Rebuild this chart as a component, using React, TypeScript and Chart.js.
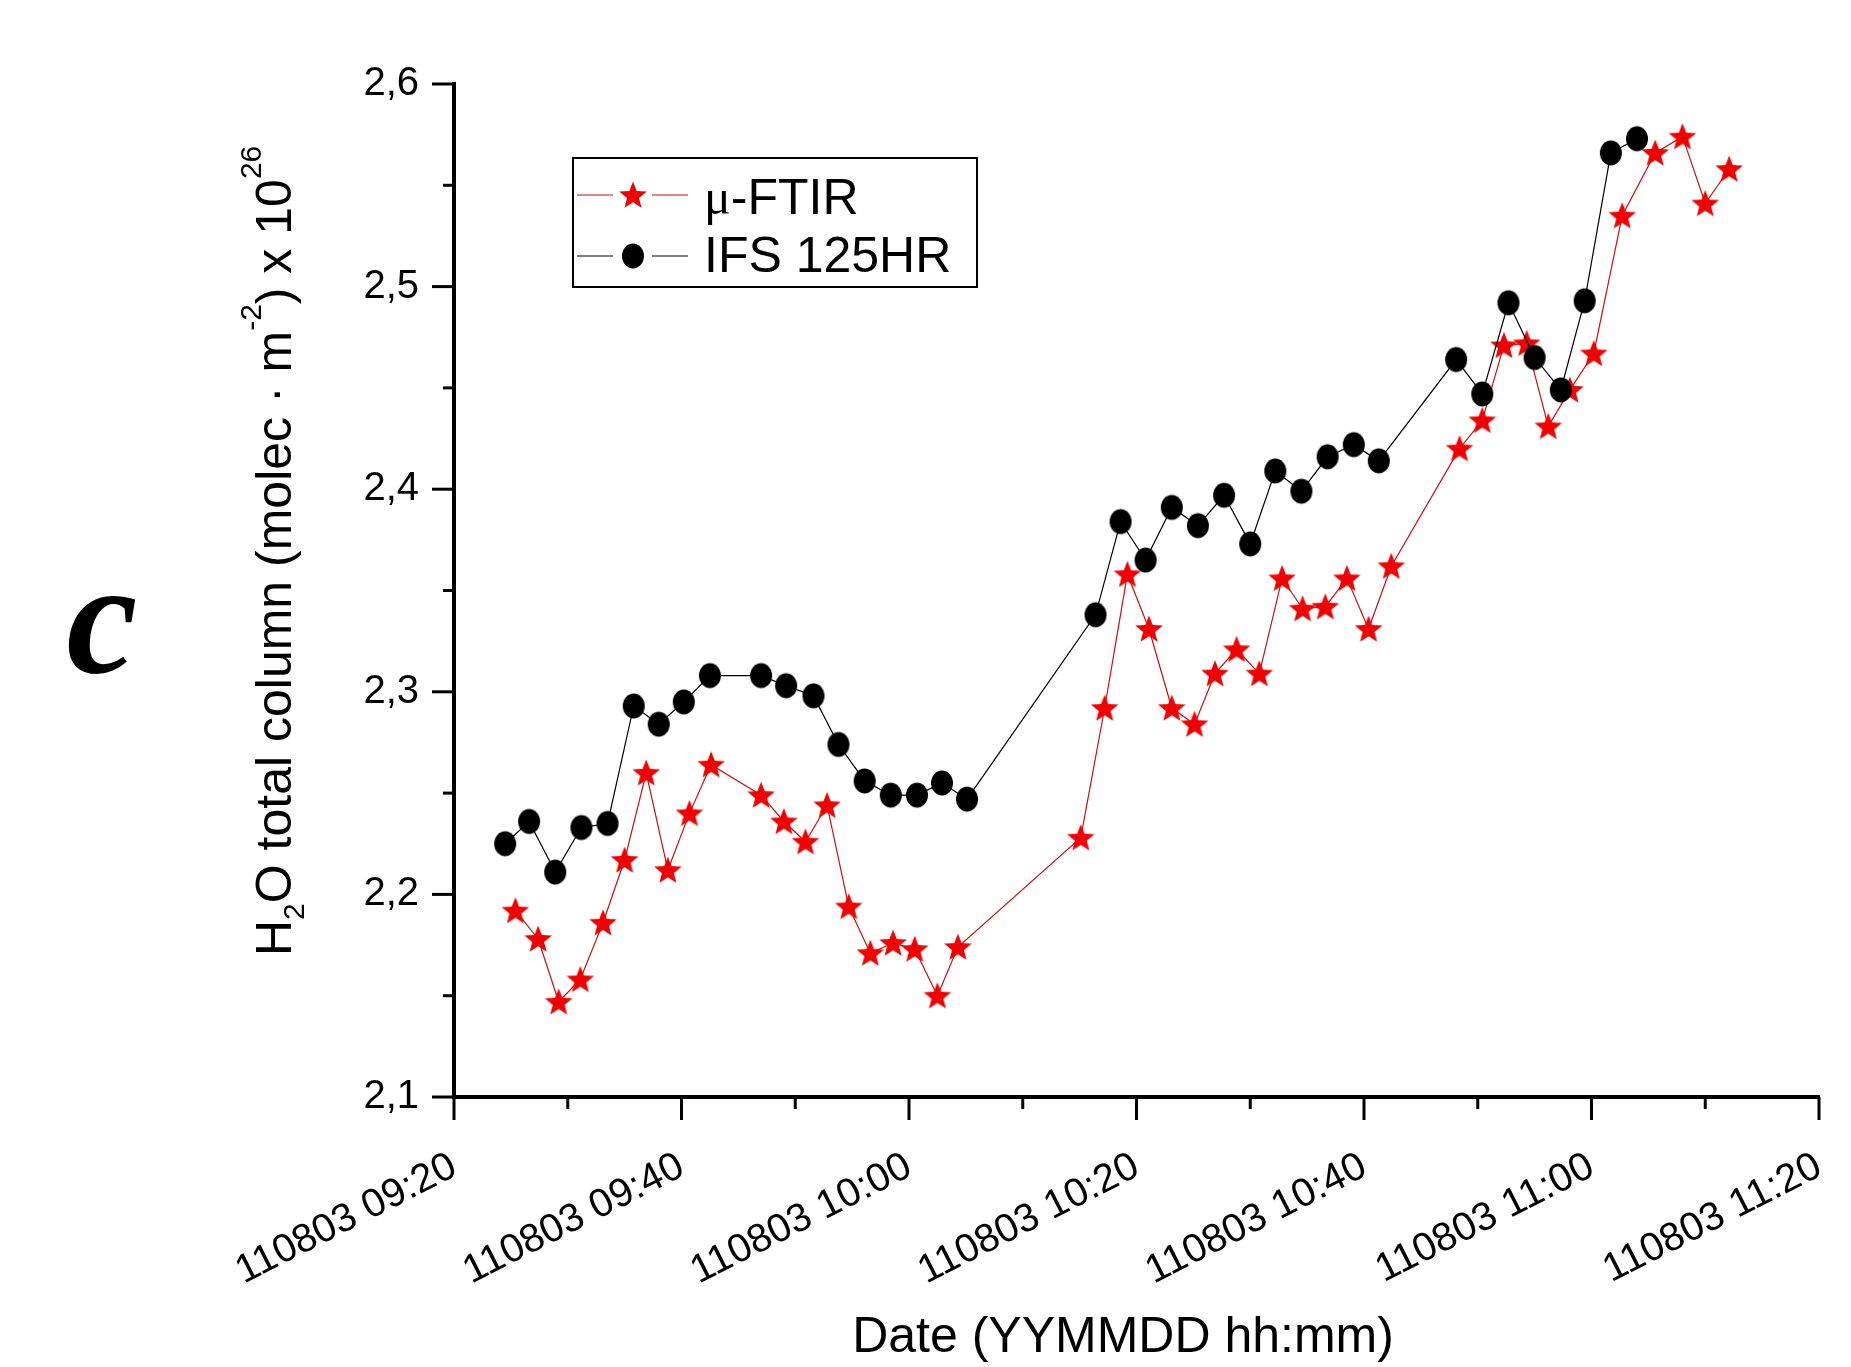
import React, { useEffect, useRef } from 'react';
import { Chart, registerables } from 'chart.js';

Chart.register(...registerables);

// Time axis: minutes after 110803 09:20
const ftirMinutes = [5.4, 7.4, 9.2, 11.1, 13.1, 15.0, 16.9, 18.8, 20.7, 22.6, 27.0, 29.0, 30.9, 32.8, 34.7, 36.6, 38.6, 40.5, 42.5, 44.3, 55.1, 57.2, 59.2, 61.1, 63.1, 65.1, 66.9, 68.8, 70.8, 72.8, 74.6, 76.6, 78.5, 80.4, 82.4, 88.4, 90.4, 92.3, 94.3, 96.2, 98.1, 100.2, 102.7, 105.6, 108.0, 110.0, 112.1];
const ftirValues = [2.192, 2.178, 2.147, 2.158, 2.186, 2.217, 2.260, 2.212, 2.240, 2.264, 2.249, 2.236, 2.226, 2.244, 2.194, 2.171, 2.176, 2.173, 2.150, 2.174, 2.228, 2.292, 2.358, 2.331, 2.292, 2.284, 2.309, 2.321, 2.309, 2.356, 2.341, 2.342, 2.356, 2.331, 2.362, 2.420, 2.434, 2.471, 2.472, 2.431, 2.449, 2.467, 2.535, 2.566, 2.574, 2.541, 2.558];

const ifsMinutes = [4.5, 6.6, 8.9, 11.2, 13.5, 15.8, 18.0, 20.2, 22.5, 27.0, 29.2, 31.6, 33.8, 36.1, 38.4, 40.7, 42.9, 45.1, 56.4, 58.6, 60.8, 63.1, 65.4, 67.7, 70.0, 72.2, 74.5, 76.8, 79.1, 81.3, 88.1, 90.4, 92.7, 95.0, 97.3, 99.4, 101.7, 104.0];
const ifsValues = [2.225, 2.236, 2.211, 2.233, 2.235, 2.293, 2.284, 2.295, 2.308, 2.308, 2.303, 2.298, 2.274, 2.256, 2.249, 2.249, 2.255, 2.247, 2.338, 2.384, 2.365, 2.391, 2.382, 2.397, 2.373, 2.409, 2.399, 2.416, 2.422, 2.414, 2.464, 2.447, 2.492, 2.465, 2.449, 2.493, 2.566, 2.573];

const xTickValues = [0, 20, 40, 60, 80, 100, 120];
const xTickLabels = ['110803 09:20', '110803 09:40', '110803 10:00', '110803 10:20', '110803 10:40', '110803 11:00', '110803 11:20'];
const xMinorTicks = [10, 30, 50, 70, 90, 110];
const yTickValues = [2.1, 2.2, 2.3, 2.4, 2.5, 2.6];
const yTickLabels = ['2,1', '2,2', '2,3', '2,4', '2,5', '2,6'];
const yMinorTicks = [2.15, 2.25, 2.35, 2.45, 2.55];

const seriesNames = ['\u03bc-FTIR', 'IFS 125HR'];
const xTitle = 'Date (YYMMDD hh:mm)';
const yTitleParts = [
  { t: 'H', k: 'n' },
  { t: '2', k: 'sub' },
  { t: 'O total column (molec \u00b7 m', k: 'n' },
  { t: '-2', k: 'sup' },
  { t: ') x 10', k: 'n' },
  { t: '26', k: 'sup' },
];
const panelLabel = 'c';

const SANS = "'Liberation Sans', Arial, sans-serif";
const RED = '#f00000';
const RED_LINE = '#c81010';

function makeStar(): HTMLCanvasElement {
  const c = document.createElement('canvas');
  c.width = 32;
  c.height = 32;
  const g = c.getContext('2d')!;
  const R = 14.5;
  const r = 6.3;
  const cx = 16;
  const cy = 17;
  g.beginPath();
  for (let i = 0; i < 10; i++) {
    const rad = i % 2 === 0 ? R : r;
    const a = -Math.PI / 2 + (i * Math.PI) / 5;
    const px = cx + rad * Math.cos(a);
    const py = cy + rad * Math.sin(a);
    if (i === 0) g.moveTo(px, py);
    else g.lineTo(px, py);
  }
  g.closePath();
  g.fillStyle = RED;
  g.fill();
  return c;
}

function makeDot(): HTMLCanvasElement {
  const c = document.createElement('canvas');
  c.width = 26;
  c.height = 28;
  const g = c.getContext('2d')!;
  g.beginPath();
  g.ellipse(13, 14, 11, 12.5, 0, 0, Math.PI * 2);
  g.fillStyle = '#000';
  g.fill();
  return c;
}

export default function App() {
  const ref = useRef<HTMLCanvasElement>(null);

  useEffect(() => {
    const canvas = ref.current!;
    const star = makeStar();
    const dot = makeDot();

    const decor = {
      id: 'decor',
      afterDraw(chart: any) {
        const ctx = chart.ctx as CanvasRenderingContext2D;
        const xs = chart.scales.x;
        const ys = chart.scales.y;
        const area = chart.chartArea;
        ctx.save();
        ctx.strokeStyle = '#000';
        ctx.lineCap = 'butt';
        // x ticks
        ctx.lineWidth = 3;
        xTickValues.forEach((t) => {
          const px = xs.getPixelForValue(t);
          ctx.beginPath();
          ctx.moveTo(px, area.bottom);
          ctx.lineTo(px, area.bottom + 23);
          ctx.stroke();
        });
        xMinorTicks.forEach((t) => {
          const px = xs.getPixelForValue(t);
          ctx.beginPath();
          ctx.moveTo(px, area.bottom);
          ctx.lineTo(px, area.bottom + 12);
          ctx.stroke();
        });
        // y ticks
        yTickValues.forEach((v) => {
          const py = ys.getPixelForValue(v);
          ctx.beginPath();
          ctx.moveTo(area.left, py);
          ctx.lineTo(area.left - 22, py);
          ctx.stroke();
        });
        yMinorTicks.forEach((v) => {
          const py = ys.getPixelForValue(v);
          ctx.beginPath();
          ctx.moveTo(area.left, py);
          ctx.lineTo(area.left - 11, py);
          ctx.stroke();
        });

        ctx.fillStyle = '#000';
        // x title
        ctx.font = `50px ${SANS}`;
        ctx.textAlign = 'center';
        ctx.textBaseline = 'alphabetic';
        ctx.fillText(xTitle, 1123, 1352);

        // y title (rotated, with sub/superscripts)
        ctx.save();
        ctx.translate(291, 956);
        ctx.rotate(-Math.PI / 2);
        ctx.textAlign = 'left';
        let cx = 0;
        yTitleParts.forEach((p) => {
          const small = p.k !== 'n';
          ctx.font = small ? `30px ${SANS}` : `50px ${SANS}`;
          const dy = p.k === 'sub' ? 13 : p.k === 'sup' ? -30 : 0;
          ctx.fillText(p.t, cx, dy);
          cx += ctx.measureText(p.t).width;
        });
        ctx.restore();

        // legend
        ctx.lineWidth = 2;
        ctx.strokeRect(573, 158, 404, 129);
        const rows = [
          { y: 195, color: RED_LINE, img: star },
          { y: 256, color: '#000', img: dot },
        ];
        rows.forEach((r, i) => {
          ctx.strokeStyle = r.color;
          ctx.lineWidth = 1.2;
          ctx.beginPath();
          ctx.moveTo(577, r.y);
          ctx.lineTo(613, r.y);
          ctx.moveTo(652, r.y);
          ctx.lineTo(688, r.y);
          ctx.stroke();
          ctx.drawImage(r.img, 633 - r.img.width / 2, r.y - r.img.height / 2);
          ctx.fillStyle = '#000';
          ctx.textAlign = 'left';
          ctx.textBaseline = 'alphabetic';
          const base = i === 0 ? 214 : 272;
          const tx = 704;
          if (i === 0) {
            const mu = seriesNames[0].slice(0, 1);
            const rest = seriesNames[0].slice(1);
            ctx.font = `50px 'Liberation Serif', serif`;
            ctx.fillText(mu, tx, base);
            const w = ctx.measureText(mu).width;
            ctx.font = `50px ${SANS}`;
            ctx.fillText(rest, tx + w, base);
          } else {
            ctx.font = `50px ${SANS}`;
            ctx.fillText(seriesNames[1], tx, base);
          }
        });

        // panel label
        ctx.font = `italic bold 160px 'Liberation Serif', serif`;
        ctx.textAlign = 'center';
        ctx.textBaseline = 'alphabetic';
        ctx.fillText(panelLabel, 102, 672);
        ctx.restore();
      },
    };

    const chart = new Chart(canvas, {
      type: 'line',
      data: {
        datasets: [
          {
            label: seriesNames[0],
            data: ftirMinutes.map((x, i) => ({ x, y: ftirValues[i] })),
            borderColor: RED_LINE,
            borderWidth: 1.2,
            pointStyle: star as any,
            pointRadius: 12,
            pointHoverRadius: 12,
            order: 1,
            tension: 0,
          },
          {
            label: seriesNames[1],
            data: ifsMinutes.map((x, i) => ({ x, y: ifsValues[i] })),
            borderColor: '#000',
            borderWidth: 1.2,
            pointStyle: dot as any,
            pointRadius: 12,
            pointHoverRadius: 12,
            order: 0,
            tension: 0,
          },
        ],
      },
      options: {
        responsive: false,
        animation: false,
        devicePixelRatio: 1,
        events: [],
        layout: { padding: { left: 0, top: 84, right: 32, bottom: 0 } },
        plugins: {
          legend: { display: false },
          tooltip: { enabled: false },
          title: { display: false },
        },
        scales: {
          x: {
            type: 'linear',
            min: 0,
            max: 120,
            grid: { display: false, drawTicks: false },
            border: { display: true, width: 4, color: '#000' },
            ticks: {
              stepSize: 20,
              autoSkip: false,
              maxRotation: 27,
              minRotation: 27,
              padding: 46,
              color: '#000',
              font: { size: 40, family: SANS },
              callback: (v: any) => {
                const i = xTickValues.indexOf(Number(v));
                return i >= 0 ? xTickLabels[i] : '';
              },
            },
            afterFit: (s: any) => {
              s.height = 270;
              s.paddingRight = 0;
              s.paddingLeft = 0;
            },
          },
          y: {
            type: 'linear',
            min: 2.1,
            max: 2.6,
            grid: { display: false, drawTicks: false },
            border: { display: true, width: 4, color: '#000' },
            ticks: {
              stepSize: 0.1,
              padding: 35,
              color: '#000',
              font: { size: 40, family: SANS },
              callback: (v: any) => {
                const i = Math.round((Number(v) - 2.1) / 0.1);
                return yTickLabels[i] ?? '';
              },
            },
            afterFit: (s: any) => {
              s.width = 454;
              s.paddingTop = 0;
              s.paddingBottom = 0;
            },
          },
        },
      },
      plugins: [decor],
    });

    return () => chart.destroy();
  }, []);

  return (
    <div style={{ position: 'absolute', left: 0, top: 0, width: 1851, height: 1367, background: '#fff' }}>
      <canvas ref={ref} width={1851} height={1367} style={{ display: 'block' }} />
    </div>
  );
}
